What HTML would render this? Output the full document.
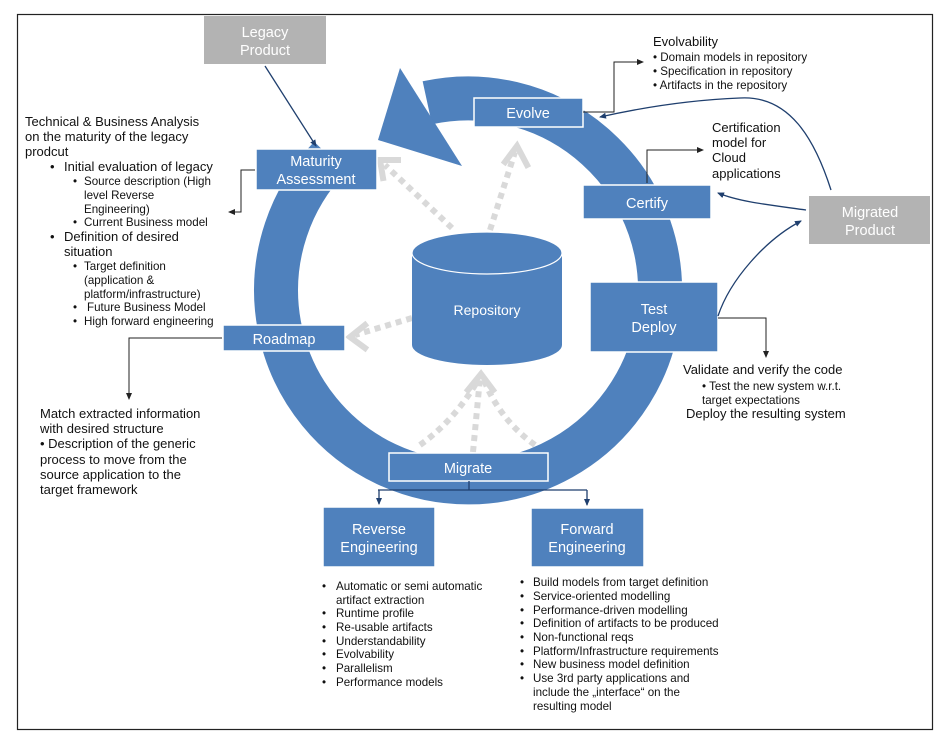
<!DOCTYPE html>
<html><head><meta charset="utf-8"><style>
html,body{margin:0;padding:0;background:#fff;}
svg{display:block;font-family:"Liberation Sans",Arial,sans-serif;}
.t{font-size:13px;fill:#111;}
.s{font-size:11.6px;fill:#111;}
.w{font-size:14.5px;fill:#fff;text-anchor:middle;}
</style></head><body>
<svg width="947" height="742" viewBox="0 0 947 742" xmlns="http://www.w3.org/2000/svg">
<defs>
<marker id="a" markerWidth="8" markerHeight="8" refX="6" refY="3" orient="auto" markerUnits="userSpaceOnUse"><path d="M0,0 L7,3 L0,6 z" fill="#1f3f6e"/></marker>
<marker id="k" markerWidth="8" markerHeight="8" refX="6" refY="3" orient="auto" markerUnits="userSpaceOnUse"><path d="M0,0 L7,3 L0,6 z" fill="#222"/></marker>
</defs>
<rect x="17.5" y="14.5" width="915" height="715" fill="none" stroke="#222" stroke-width="1.2"/>

<!-- ring -->
<path d="M 427.3 102.8 A 192 192 0 1 1 330 157" fill="none" stroke="#4f81bd" stroke-width="44"/>
<polygon points="400,68 462,166 378,140" fill="#4f81bd"/>

<!-- gray dashed arrows -->
<g stroke="#d9d9d9" stroke-width="6" stroke-dasharray="6,5" fill="none">
<path d="M452 228 L385 165"/>
<path d="M490 230 L515 152"/>
<path d="M412 318 L355 335"/>
<path d="M473 452 L480 378"/>
<path d="M420 445 Q455 420 478 380"/>
<path d="M535 445 Q500 420 484 380"/>
</g>
<g stroke="#d9d9d9" stroke-width="6" fill="none" stroke-linecap="square">
<path d="M383 178 L380 160 L398 160"/>
<path d="M505 162 L517 146 L527 165"/>
<path d="M365 325 L350 337 L365 348"/>
<path d="M468 390 L481 374 L493 390"/>
</g>

<!-- cylinder -->
<path d="M412 253 L412 345 A75 20 0 0 0 562 345 L562 253" fill="#4f81bd"/>
<ellipse cx="487" cy="253" rx="75" ry="21" fill="#4f81bd" stroke="#fff" stroke-width="1.2"/>
<text x="487" y="315" class="w" style="font-size:14px">Repository</text>

<!-- boxes -->
<rect x="204" y="16" width="122" height="48" fill="#b3b3b3"/>
<text x="265" y="37" class="w">Legacy</text><text x="265" y="55" class="w">Product</text>
<rect x="809" y="196" width="121" height="48" fill="#b3b3b3"/>
<text x="870" y="217" class="w">Migrated</text><text x="870" y="235" class="w">Product</text>

<g stroke="#fff" stroke-width="1.5" fill="#4f81bd">
<rect x="256" y="149" width="121" height="41"/>
<rect x="474" y="98" width="109" height="29"/>
<rect x="583" y="185" width="128" height="34"/>
<rect x="590" y="282" width="128" height="70"/>
<rect x="223" y="325" width="122" height="26"/>
<rect x="389" y="453" width="159" height="28"/>
<rect x="323" y="507" width="112" height="60"/>
<rect x="531" y="508" width="113" height="59"/>
</g>
<text x="316" y="166" class="w">Maturity</text><text x="316" y="184" class="w">Assessment</text>
<text x="528" y="118" class="w">Evolve</text>
<text x="647" y="208" class="w">Certify</text>
<text x="654" y="314" class="w">Test</text><text x="654" y="332" class="w">Deploy</text>
<text x="284" y="344" class="w">Roadmap</text>
<text x="468" y="473" class="w">Migrate</text>
<text x="379" y="534" class="w">Reverse</text><text x="379" y="552" class="w">Engineering</text>
<text x="587" y="534" class="w">Forward</text><text x="587" y="552" class="w">Engineering</text>

<!-- connectors -->
<g fill="none" stroke-width="1.3">
<path d="M265 66 L316 146" stroke="#1f3f6e" marker-end="url(#a)"/>
<path d="M831 190 C815 140 790 95 740 98 C690 100 640 108 600 117" stroke="#1f3f6e" marker-end="url(#a)"/>
<path d="M806 210 C770 205 740 202 718 193" stroke="#1f3f6e" marker-end="url(#a)"/>
<path d="M718 316 C730 280 765 240 801 221" stroke="#1f3f6e" marker-end="url(#a)"/>
<path d="M469 481 L469 490 M378 490 L587 490" stroke="#1f3f6e"/>
<path d="M379 490 L379 504" stroke="#1f3f6e" marker-end="url(#a)"/>
<path d="M587 490 L587 505" stroke="#1f3f6e" marker-end="url(#a)"/>
</g>
<g fill="none" stroke="#222" stroke-width="1">
<path d="M255 170 L241 170 L241 212 L229 212" marker-end="url(#k)"/>
<path d="M222 338 L129 338 L129 399" marker-end="url(#k)"/>
<path d="M583 112 L614 112 L614 62 L643 62" marker-end="url(#k)"/>
<path d="M647 183 L647 150 L703 150" marker-end="url(#k)"/>
<path d="M718 318 L766 318 L766 357" marker-end="url(#k)"/>
</g>

<!-- left text -->
<text class="t" x="25" y="126">Technical &amp; Business Analysis</text>
<text class="t" x="25" y="141">on the maturity of the legacy</text>
<text class="t" x="25" y="156">prodcut</text>
<text class="t" x="50" y="171">•</text><text class="t" x="64" y="171">Initial evaluation of legacy</text>
<text class="s" x="73" y="185">•</text><text class="s" x="84" y="185">Source description (High</text>
<text class="s" x="84" y="199">level Reverse</text>
<text class="s" x="84" y="213">Engineering)</text>
<text class="s" x="73" y="226">•</text><text class="s" x="84" y="226">Current Business model</text>
<text class="t" x="50" y="241">•</text><text class="t" x="64" y="241">Definition of desired</text>
<text class="t" x="64" y="256">situation</text>
<text class="s" x="73" y="270">•</text><text class="s" x="84" y="270">Target definition</text>
<text class="s" x="84" y="284">(application &amp;</text>
<text class="s" x="84" y="298">platform/infrastructure)</text>
<text class="s" x="73" y="311">•</text><text class="s" x="87" y="311">Future Business Model</text>
<text class="s" x="73" y="325">•</text><text class="s" x="84" y="325">High forward engineering</text>

<text class="t" x="40" y="418">Match extracted information</text>
<text class="t" x="40" y="433">with desired structure</text>
<text class="t" x="40" y="448">• Description of the generic</text>
<text class="t" x="40" y="464">process to move from the</text>
<text class="t" x="40" y="479">source application to the</text>
<text class="t" x="40" y="494">target framework</text>

<!-- right text -->
<text class="t" x="653" y="46">Evolvability</text>
<text class="s" x="653" y="61">• Domain models in repository</text>
<text class="s" x="653" y="75">• Specification in repository</text>
<text class="s" x="653" y="89">• Artifacts in the repository</text>

<text class="t" x="712" y="132">Certification</text>
<text class="t" x="712" y="147">model for</text>
<text class="t" x="712" y="162">Cloud</text>
<text class="t" x="712" y="178">applications</text>

<text class="t" x="683" y="374">Validate and verify the  code</text>
<text class="s" x="702" y="390">• Test the new system w.r.t.</text>
<text class="s" x="702" y="404">target expectations</text>
<text class="t" x="686" y="418">Deploy the resulting system</text>

<!-- reverse list -->
<text class="s" x="322" y="590">•</text><text class="s" x="336" y="590">Automatic or semi automatic</text>
<text class="s" x="336" y="604">artifact extraction</text>
<text class="s" x="322" y="617">•</text><text class="s" x="336" y="617">Runtime profile</text>
<text class="s" x="322" y="631">•</text><text class="s" x="336" y="631">Re-usable artifacts</text>
<text class="s" x="322" y="645">•</text><text class="s" x="336" y="645">Understandability</text>
<text class="s" x="322" y="658">•</text><text class="s" x="336" y="658">Evolvability</text>
<text class="s" x="322" y="672">•</text><text class="s" x="336" y="672">Parallelism</text>
<text class="s" x="322" y="686">•</text><text class="s" x="336" y="686">Performance models</text>

<text class="s" x="520" y="586">•</text><text class="s" x="533" y="586">Build models from target definition</text>
<text class="s" x="520" y="600">•</text><text class="s" x="533" y="600">Service-oriented modelling</text>
<text class="s" x="520" y="614">•</text><text class="s" x="533" y="614">Performance-driven modelling</text>
<text class="s" x="520" y="627">•</text><text class="s" x="533" y="627">Definition of artifacts to be produced</text>
<text class="s" x="520" y="641">•</text><text class="s" x="533" y="641">Non-functional reqs</text>
<text class="s" x="520" y="655">•</text><text class="s" x="533" y="655">Platform/Infrastructure requirements</text>
<text class="s" x="520" y="668">•</text><text class="s" x="533" y="668">New business model definition</text>
<text class="s" x="520" y="682">•</text><text class="s" x="533" y="682">Use 3rd party applications and</text>
<text class="s" x="533" y="696">include the „interface“ on the</text>
<text class="s" x="533" y="710">resulting model</text>
</svg>
</body></html>
